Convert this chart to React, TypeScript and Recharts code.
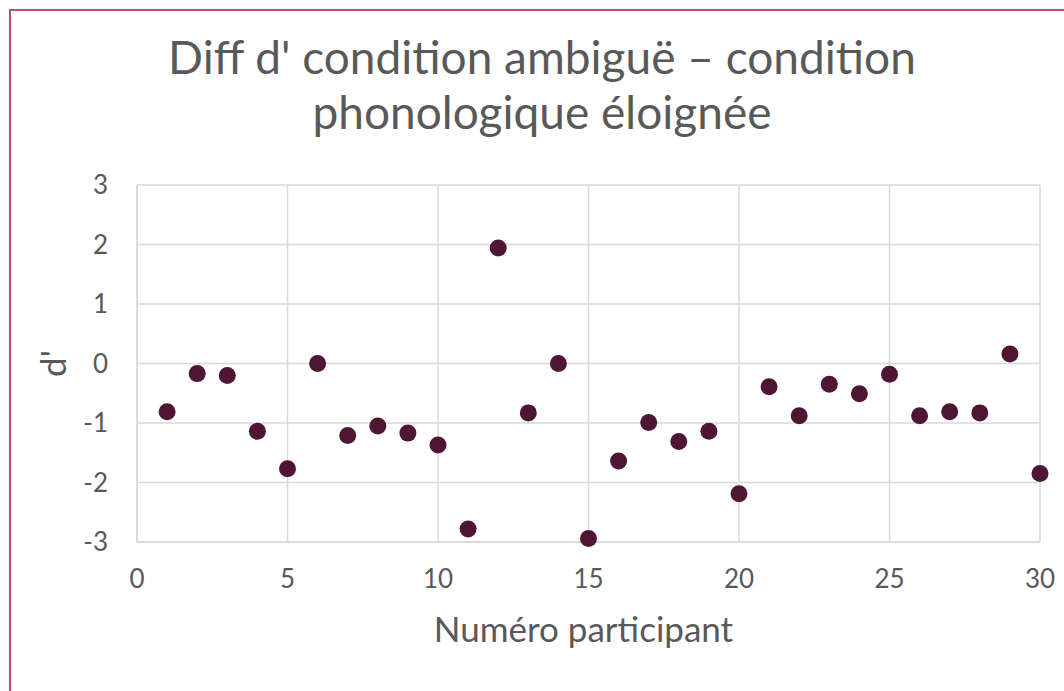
import React from 'react';
import { ScatterChart, Scatter, XAxis, YAxis, CartesianGrid, Label } from 'recharts';

const participants = [1, 2, 3, 4, 5, 6, 7, 8, 9, 10, 11, 12, 13, 14, 15, 16, 17, 18, 19, 20, 21, 22, 23, 24, 25, 26, 27, 28, 29, 30];
const diffD = [
  -0.81, -0.17, -0.2, -1.14, -1.77, 0.0, -1.21, -1.05, -1.17, -1.37,
  -2.78, 1.94, -0.83, 0.0, -2.94, -1.64, -0.99, -1.31, -1.14, -2.19,
  -0.39, -0.88, -0.35, -0.51, -0.18, -0.88, -0.81, -0.83, 0.16, -1.85,
];
const xTicks = [0, 5, 10, 15, 20, 25, 30];
const yTicks = [-3, -2, -1, 0, 1, 2, 3];

const titleLines = ["Diff d' condition ambiguë – condition", 'phonologique éloignée'];
const xTitle = 'Numéro participant';
const yTitle = "d'";

const points = participants.map((p, i) => ({ x: p, y: diffD[i] }));

const FONT = 'Lato, "Open Sans", sans-serif';
const TEXT = '#595959';
const GRID = '#d9d9d9';
const DOT = '#4f1535';

const YTitle = (props: any) => {
  const vb = props.viewBox;
  const cy = vb.y + vb.height / 2;
  const x = 66;
  return (
    <text
      x={x}
      y={cy}
      transform={`rotate(-90 ${x} ${cy})`}
      textAnchor="middle"
      fill={TEXT}
      fontSize={35}
      fontFamily={FONT}
    >
      {yTitle}
    </text>
  );
};

export default function App() {
  return (
    <div style={{ position: 'fixed', left: 0, top: 0, width: 1064, height: 691, overflow: 'hidden', background: '#fff' }}>
      <div
        style={{
          position: 'absolute',
          left: 9,
          top: 9,
          width: 1100,
          height: 720,
          borderTop: '2px solid #c94a64',
          borderLeft: '2px solid #c94a64',
        }}
      />
      <div
        style={{
          position: 'absolute',
          left: 20,
          top: 29,
          width: 1044,
          textAlign: 'center',
          fontFamily: FONT,
          fontSize: 46,
          lineHeight: '55px',
          color: TEXT,
        }}
      >
        {titleLines.map((l) => (
          <div key={l}>{l}</div>
        ))}
      </div>
      <div style={{ position: 'absolute', left: 0, top: 0 }}>
        <ScatterChart width={1064} height={691} margin={{ top: 185, right: 24, bottom: 0, left: 0 }}>
          <CartesianGrid stroke={GRID} strokeWidth={1.5} />
          <XAxis
            type="number"
            dataKey="x"
            domain={[0, 30]}
            ticks={xTicks}
            interval={0}
            height={149}
            tickLine={false}
            axisLine={{ stroke: GRID, strokeWidth: 1.5 }}
            tickSize={0}
            tickMargin={28}
            tick={{ fill: TEXT, fontSize: 26, fontFamily: FONT }}
          >
            <Label value={xTitle} position="insideBottom" offset={49} dx={-5} fill={TEXT} fontSize={35} fontFamily={FONT} />
          </XAxis>
          <YAxis
            type="number"
            dataKey="y"
            domain={[-3, 3]}
            ticks={yTicks}
            interval={0}
            width={137}
            tickLine={false}
            axisLine={{ stroke: GRID, strokeWidth: 1.5 }}
            tickSize={0}
            tickMargin={29}
            tick={{ fill: TEXT, fontSize: 26, fontFamily: FONT }}
          >
            <Label content={<YTitle />} />
          </YAxis>
          <Scatter data={points} fill={DOT} isAnimationActive={false} shape={(p: any) => <circle cx={p.cx} cy={p.cy} r={8.5} fill={DOT} />} />
        </ScatterChart>
      </div>
    </div>
  );
}
